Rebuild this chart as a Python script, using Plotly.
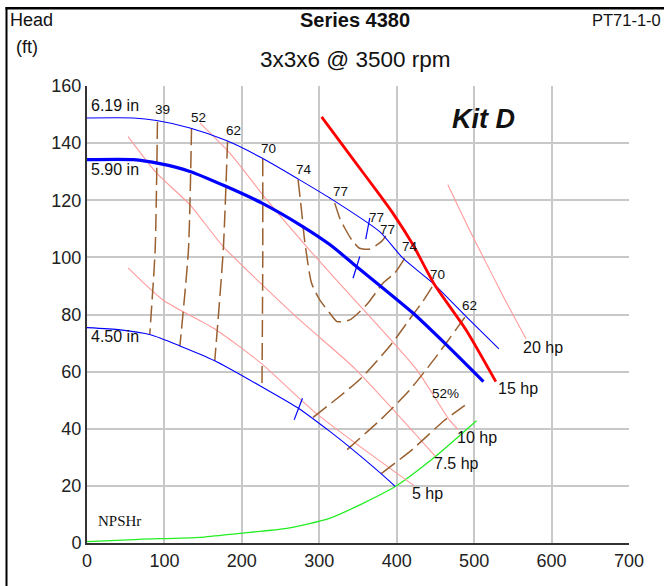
import plotly.graph_objects as go

# ---------------- data (flow in gpm, head in ft) ----------------
# impeller diameter curves
Q_619 = [0, 60, 90, 133, 180, 226, 273, 314, 378, 408, 449, 494, 532]
H_619 = [148.8, 148.8, 147.9, 145.3, 140.9, 134.8, 127.4, 120.7, 109.0, 99.7, 90.4, 78.1, 68.0]
Q_590 = [0, 60, 94, 133, 180, 226, 275, 314, 348, 421, 463, 512]
H_590 = [134.2, 134.2, 132.8, 130.1, 124.8, 119.0, 111.4, 104.4, 96.8, 80.5, 69.7, 56.5]
Q_450 = [0, 43, 82, 120, 165, 225, 273, 314, 340, 391, 398]
H_450 = [75.4, 74.6, 72.9, 69.0, 63.8, 54.8, 47.2, 39.0, 33.4, 21.6, 19.8]

# horsepower lines
Q_5HP = [53, 98, 167, 225, 296, 412, 422]
H_5HP = [96.3, 85.1, 74.6, 62.9, 45.4, 22.1, 20.2]
Q_75HP = [53, 90, 133, 176, 275, 345, 450]
H_75HP = [142.3, 129.5, 118.4, 103.8, 78.0, 61.3, 30.3]
Q_10HP = [146, 184.5, 232, 283.5, 322, 424, 468, 479]
H_10HP = [147.0, 136.5, 120.2, 103.8, 92.1, 61.3, 43.1, 39.8]
Q_15HP = [303, 344, 378, 395, 421, 449, 490, 528]
H_15HP = [149.2, 134.2, 121.9, 115.5, 104.4, 90.4, 74.4, 56.5]
Q_20HP = [466, 494, 540, 567]
H_20HP = [125.4, 109.6, 85.1, 71.5]

# NPSH required
Q_NPSH = [0, 68, 146, 197, 258, 314, 397, 450, 503]
H_NPSH = [0.5, 1.3, 2.0, 3.4, 5.1, 8.7, 19.6, 30.3, 42.8]

# efficiency contours
Q_E39 = [91, 88, 81]
H_E39 = [147.5, 102.6, 72.9]
Q_E52 = [135, 131, 120]
H_E52 = [145.3, 102.6, 69.0]
Q_E62 = [181.5, 176, 165]
H_E62 = [140.6, 102.6, 63.8]
Q_E70 = [227, 227, 226]
H_E70 = [134.4, 100, 54.8]
Q_E74 = [272.6, 277, 281, 290, 300.6, 313.5, 323, 339.4, 352.3, 363, 382.3, 397.4, 410.3]
H_E74 = [127.2, 116.6, 106.1, 91.0, 85.1, 80.5, 77.5, 78.1, 81.0, 84.0, 91.0, 94.5, 99.7]
Q_E77 = [320, 326.5, 333, 342, 352, 365, 380, 386]
H_E77 = [119.0, 113.7, 110.2, 106.1, 103.2, 102.9, 105.5, 107.5]
Q_E70R = [292, 323, 354, 393, 419, 435, 449]
H_E70R = [44.0, 50.6, 57.7, 69.6, 79.2, 85.1, 91.1]
Q_E62R = [336, 380, 415, 450, 490]
H_E62R = [32.7, 43.4, 53.0, 64.9, 79.8]
Q_E52R = [380, 420, 461, 488]
H_E52R = [24.3, 32.7, 42.8, 48.2]

# best-efficiency tick marks (pairs of points)
Q_BEP = [365.2, 360, None, 352.3, 343.6, None, 278.3, 267.5]
H_BEP = [113.8, 106.4, None, 100.3, 92.7, None, 50.7, 43.1]

# labels
DIA_TEXT = ["6.19 in", "5.90 in", "4.50 in"]
DIA_Q = [3, 3, 3]
DIA_H = [153.1, 130.7, 72.2]
EFF_TEXT = ["39", "52", "62", "70", "74", "77", "77", "77", "74", "70", "62", "52%"]
EFF_Q = [97, 144.5, 189.7, 234.8, 280, 327.7, 374, 388.4, 416.8, 452.9, 494.2, 463]
EFF_H = [151.7, 148.9, 144.3, 138.0, 130.7, 123.0, 113.8, 109.6, 103.7, 93.9, 83.0, 52.5]
HP_TEXT = ["20 hp", "15 hp", "10 hp", "7.5 hp", "5 hp"]
HP_Q = [560, 528, 475, 445, 417]
HP_H = [68.3, 54.0, 37.1, 28.0, 17.5]

X_TICKS = [0, 100, 200, 300, 400, 500, 600, 700]
Y_TICKS = [0, 20, 40, 60, 80, 100, 120, 140, 160]

# ---------------- figure ----------------
BLUE = "#0000ff"
PINK = "#ff9a9a"
BROWN = "#9a6030"
GREEN = "#22ee22"
RED = "#ff0000"

fig = go.Figure()

def line(q, h, color, width, dash=None):
    fig.add_trace(go.Scatter(x=q, y=h, mode="lines",
                             line=dict(color=color, width=width, dash=dash, shape="spline", smoothing=0.6),
                             hoverinfo="skip", connectgaps=False))

line(Q_NPSH, H_NPSH, GREEN, 1.3)
for q, h in [(Q_5HP, H_5HP), (Q_75HP, H_75HP), (Q_10HP, H_10HP), (Q_20HP, H_20HP)]:
    line(q, h, PINK, 1.1)
EFF_DASH = "17px,6px"
for q, h in [(Q_E39, H_E39), (Q_E52, H_E52), (Q_E62, H_E62), (Q_E70, H_E70),
             (Q_E74, H_E74), (Q_E77, H_E77), (Q_E70R, H_E70R), (Q_E62R, H_E62R), (Q_E52R, H_E52R)]:
    line(q, h, BROWN, 1.5, EFF_DASH)
line(Q_619, H_619, BLUE, 1.1)
line(Q_450, H_450, BLUE, 1.1)
line(Q_590, H_590, BLUE, 3.2)
line(Q_15HP, H_15HP, RED, 2.8)
fig.add_trace(go.Scatter(x=Q_BEP, y=H_BEP, mode="lines", line=dict(color=BLUE, width=1.2),
                         hoverinfo="skip", connectgaps=False))

ann = []
for t, q, h in zip(DIA_TEXT, DIA_Q, DIA_H):
    ann.append(dict(x=q, y=h, xref="x", yref="y", text=t, showarrow=False, xanchor="left",
                    yanchor="middle", font=dict(size=16, color="#111")))
for t, q, h in zip(EFF_TEXT, EFF_Q, EFF_H):
    ann.append(dict(x=q, y=h, xref="x", yref="y", text=t, showarrow=False, xanchor="center",
                    yanchor="middle", font=dict(size=13.5, color="#111")))
for t, q, h in zip(HP_TEXT, HP_Q, HP_H):
    ann.append(dict(x=q, y=h, xref="x", yref="y", text=t, showarrow=False, xanchor="left",
                    yanchor="middle", font=dict(size=16, color="#111")))
ann.append(dict(x=11.5, y=7.7, xref="x", yref="y", text="NPSHr", showarrow=False, xanchor="left",
                yanchor="middle", font=dict(size=15, color="#111", family="Liberation Serif")))
ann.append(dict(x=512, y=148.5, xref="x", yref="y", text="<b><i>Kit D</i></b>", showarrow=False,
                xanchor="center", yanchor="middle", font=dict(size=27, color="#111")))

# header texts (paper coords from pixel layout)
L, R, T, B = 87, 629, 86, 543
def px(xp):
    return (xp - L) / (R - L)
def py(yp):
    return (B - yp) / (B - T)

ann += [
    dict(x=px(8), y=py(20), xref="paper", yref="paper", text="Head", showarrow=False,
         xanchor="left", yanchor="middle", font=dict(size=18, color="#111")),
    dict(x=px(14), y=py(47), xref="paper", yref="paper", text="(ft)", showarrow=False,
         xanchor="left", yanchor="middle", font=dict(size=18, color="#111")),
    dict(x=px(355), y=py(20), xref="paper", yref="paper", text="<b>Series 4380</b>", showarrow=False,
         xanchor="center", yanchor="middle", font=dict(size=20, color="#111")),
    dict(x=px(663), y=py(20), xref="paper", yref="paper", text="PT71-1-0", showarrow=False,
         xanchor="right", yanchor="middle", font=dict(size=16.5, color="#111")),
    dict(x=px(355), y=py(60), xref="paper", yref="paper", text="3x3x6 @ 3500 rpm", showarrow=False,
         xanchor="center", yanchor="middle", font=dict(size=22.5, color="#111")),
]

# outer frame: filled thin bars along the left and top edges
shapes = [
    dict(type="rect", xref="paper", yref="paper", x0=px(5.5), x1=px(7.5), y0=py(600), y1=py(7),
         line=dict(width=0), fillcolor="#000", layer="above"),
    dict(type="rect", xref="paper", yref="paper", x0=px(5.5), x1=px(680), y0=py(9.5), y1=py(7),
         line=dict(width=0), fillcolor="#000", layer="above"),
]

axis_common = dict(showgrid=True, gridcolor="#c8c8c8", gridwidth=2, zeroline=False,
                   showline=True, linecolor="#333", linewidth=2, ticks="",
                   tickfont=dict(size=18, color="#222"))
fig.update_layout(
    width=664, height=586, autosize=False,
    margin=dict(l=L, r=664 - R, t=T, b=586 - B),
    paper_bgcolor="white", plot_bgcolor="white", showlegend=False,
    font=dict(family="Liberation Sans, Arial, sans-serif"),
    xaxis=dict(range=[0, 700], tickvals=X_TICKS, **axis_common),
    yaxis=dict(range=[0, 160], tickvals=Y_TICKS, **axis_common),
    annotations=ann, shapes=shapes,
)

fig.write_html("out.html", config={"displayModeBar": False},
               post_script="document.body.style.margin='0';document.body.style.overflow='hidden';")
